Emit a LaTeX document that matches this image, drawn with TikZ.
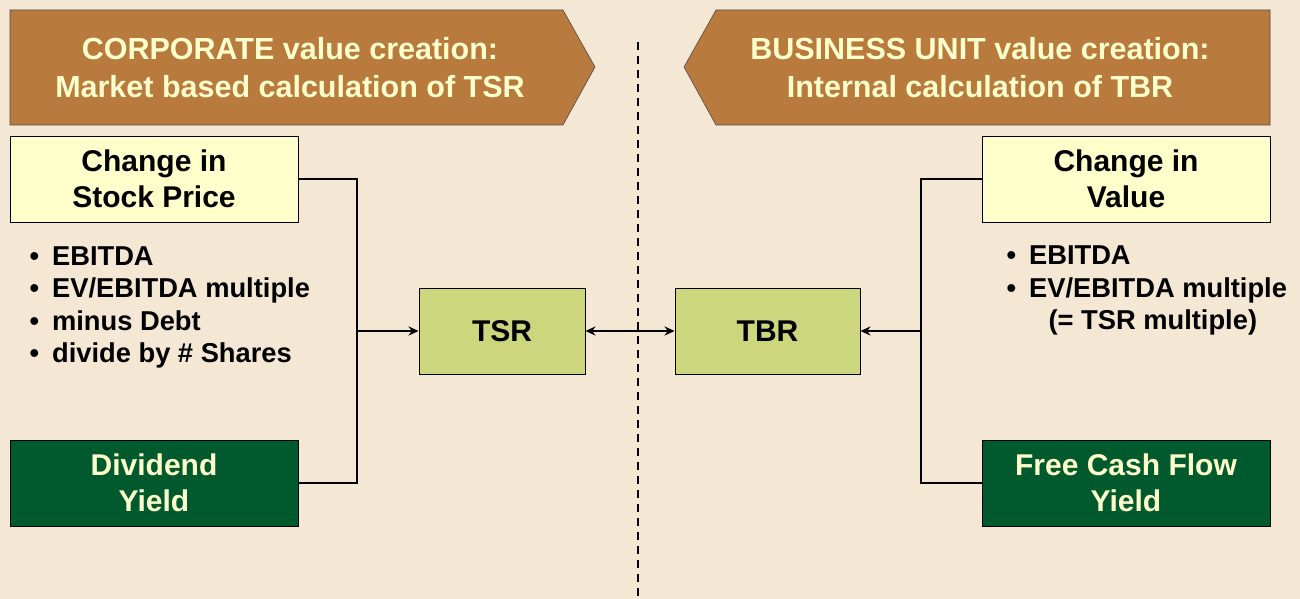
\documentclass[tikz,border=0pt]{standalone}
\usepackage{fontspec}
\setmainfont{Liberation Sans}
\usetikzlibrary{arrows.meta}
\definecolor{bgbeige}{HTML}{F4E7D4}
\definecolor{hdrbrown}{HTML}{B97A3E}
\definecolor{paleyel}{HTML}{FFFFCC}
\definecolor{darkgrn}{HTML}{005A2E}
\definecolor{olivegrn}{HTML}{CCD67C}

\begin{document}
\begin{tikzpicture}[x=1pt,y=-1pt,
  hdrtext/.style={text=paleyel,font=\bfseries\fontsize{30.5}{38}\selectfont,align=center},
  srcbox/.style={draw=black,line width=0.9pt,minimum width=288pt,minimum height=86pt,
    align=center,font=\bfseries\fontsize{30}{36.5}\selectfont},
  retbox/.style={draw=black,line width=0.9pt,fill=olivegrn,minimum height=86pt,
    font=\bfseries\fontsize{30}{36}\selectfont},
  bullets/.style={anchor=west,align=left,font=\bfseries\fontsize{27.3}{32.5}\selectfont},
  link/.style={line width=2.2pt},
  tip/.style={-{Stealth[length=10pt,width=9pt]}}]
  \fill[bgbeige] (0,0) rectangle (1300,599);
  \useasboundingbox (0,0) rectangle (1300,599);

  % headers
  \begin{scope}[fill=hdrbrown,draw=black!70,line width=0.6pt]
  \filldraw (10,10) -- (563,10) -- (595,67) -- (563,125) -- (10,125) -- cycle;
  \filldraw (716,10) -- (1270,10) -- (1270,125) -- (716,125) -- (684,67) -- cycle;
  \end{scope}
  \node[hdrtext] (corp) at (290,68) {CORPORATE value creation:\\Market based calculation of TSR};
  \node[hdrtext] (unit) at (980,68) {BUSINESS UNIT value creation:\\Internal calculation of TBR};

  \draw[line width=1.8pt,dash pattern=on 8pt off 6pt] (638,42) -- (638,599);

  % corporate side
  \node[srcbox,fill=paleyel] (stock) at (154,179) {Change in\\Stock Price};
  \node[srcbox,fill=darkgrn,text=paleyel] (divid) at (154,483) {Dividend\\Yield};
  \node[bullets] (corpkpi) at (26,307.5) {\textbullet\hspace{13pt}EBITDA\\
    \textbullet\hspace{13pt}EV/EBITDA multiple\\
    \textbullet\hspace{13pt}minus Debt\\
    \textbullet\hspace{13pt}divide by \# Shares};
  \node[retbox,minimum width=166pt] (tsr) at (502,331) {TSR};

  % business unit side
  \node[srcbox,fill=paleyel] (value) at (1126,179) {Change in\\Value};
  \node[srcbox,fill=darkgrn,text=paleyel] (fcf) at (1126,483) {Free Cash Flow\\Yield};
  \node[bullets] (unitkpi) at (1003,290.5) {\textbullet\hspace{13pt}EBITDA\\
    \textbullet\hspace{13pt}EV/EBITDA multiple\\
    \hspace{42pt}(= TSR multiple)};
  \node[retbox,minimum width=185pt] (tbr) at (767.5,331) {TBR};

  % connectors
  \coordinate (cjoin) at (357,331);
  \coordinate (ujoin) at (921,331);
  \draw[link] (stock.east) -| (cjoin) |- (divid.east);
  \draw[link] (value.west) -| (ujoin) |- (fcf.west);
  \draw[link,tip] (cjoin) -- (tsr.west);
  \draw[link,tip] (ujoin) -- (tbr.east);
  \draw[link,{Stealth[length=10pt,width=9pt]}-{Stealth[length=10pt,width=9pt]}] (tsr.east) -- (tbr.west);
\end{tikzpicture}
\end{document}
